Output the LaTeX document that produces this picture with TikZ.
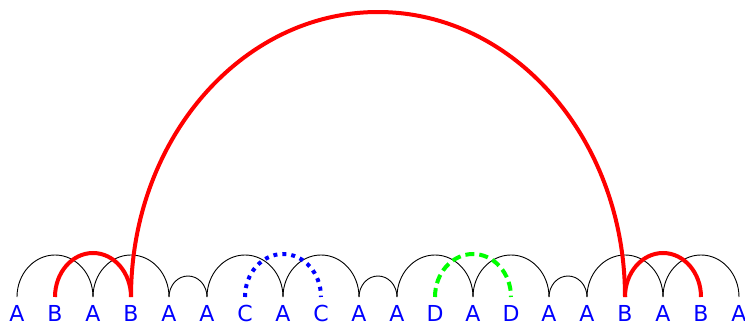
\documentclass[tikz,border=0pt]{standalone}
\usepackage{fontspec}
\setmainfont{DejaVu Sans}
\begin{document}
\begin{tikzpicture}[x=1pt,y=1pt,
  letter/.style={text=blue,font=\fontsize{22}{22}\selectfont,inner sep=0pt,anchor=center},
  thin arc/.style={draw=black,line width=0.9pt},
  red arc/.style={draw=red,line width=4pt},
  blue arc/.style={draw=blue,line width=4pt,dash pattern=on 4pt off 5pt},
  green arc/.style={draw=green,line width=4pt,dash pattern=on 9pt off 5pt}]
\useasboundingbox (0,0) rectangle (745,325);
\foreach \l [count=\i from 0] in {A,B,A,B,A,A,C,A,C,A,A,D,A,D,A,A,B,A,B,A}{
  \node[letter] (n\i) at ({17+38*\i},11.5) {\l};
  \coordinate (p\i) at ({17+38*\i},28);
}
% black arcs
\foreach \a in {0,2,6,8,12,14,18,20,24,26,30,32}{}
\foreach \s in {0,2,5,7,10,12,15,17}{
  \draw[thin arc] (p\s) arc[start angle=180,end angle=0,x radius=38,y radius=42];
}
\foreach \s in {4,9,14}{
  \draw[thin arc] (p\s) arc[start angle=180,end angle=0,x radius=19,y radius=21];
}
% red arcs
\draw[red arc] (p1) arc[start angle=180,end angle=0,x radius=38,y radius=44];
\draw[red arc] (p16) arc[start angle=180,end angle=0,x radius=38,y radius=44];
\draw[red arc] (p3) arc[start angle=180,end angle=0,x radius=247,y radius=285];
% blue dotted
\draw[blue arc] (p6) arc[start angle=180,end angle=0,x radius=38,y radius=43];
% green dashed
\draw[green arc] (p11) arc[start angle=180,end angle=0,x radius=38,y radius=43];
\end{tikzpicture}
\end{document}
